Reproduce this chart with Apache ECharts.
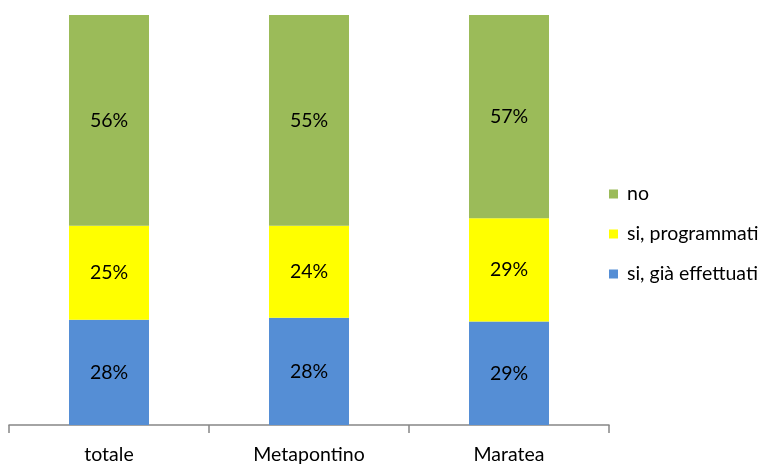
<!DOCTYPE html>
<html><head><meta charset="utf-8">
<script src="https://cdn.jsdelivr.net/npm/echarts@6/dist/echarts.min.js"></script>
<style>html,body{margin:0;padding:0;background:#fff}#c{width:764px;height:465px}</style>
</head><body><div id="c"></div>
<script>
const categories = ['totale', 'Metapontino', 'Maratea'];
const effettuati = [28, 28, 29];
const programmati = [25, 24, 29];
const no = [56, 55, 57];
const seriesNames = ['si, già effettuati', 'si, programmati', 'no'];
const colors = ['#558ED5', '#FFFF00', '#9BBB59'];

const raw = [effettuati, programmati, no];
const totals = categories.map((_, i) => raw.reduce((s, a) => s + a[i], 0));
const font = 'Lato, Calibri, Carlito, sans-serif';

const chart = echarts.init(document.getElementById('c'));
chart.setOption({
  animation: false,
  grid: { left: 9, right: 155, top: 15, bottom: 39 },
  legend: {
    orient: 'vertical', left: 604, top: 179,
    itemWidth: 9, itemHeight: 9, itemGap: 20,
    icon: 'rect',
    data: ['no', 'si, programmati', 'si, già effettuati'],
    textStyle: { fontFamily: font, fontSize: 19.5, color: '#000', padding: [0, 0, 0, 4] }
  },
  xAxis: {
    type: 'category', data: categories,
    axisLine: { lineStyle: { color: '#868686', width: 1.5 } },
    axisTick: { show: true, length: 8, lineStyle: { color: '#868686', width: 1.5 } },
    axisLabel: { fontFamily: font, fontSize: 19.5, color: '#000', margin: 20 }
  },
  yAxis: { type: 'value', min: 0, max: 1, show: false, splitLine: { show: false } },
  series: raw.map((arr, k) => ({
    name: seriesNames[k], type: 'bar', stack: 'a', barWidth: '40%',
    itemStyle: { color: colors[k] },
    data: arr.map((v, i) => ({ value: v / totals[i], raw: v })),
    label: {
      show: true, position: 'inside', fontFamily: font, fontSize: 19.5, color: '#000',
      formatter: p => p.data.raw + '%'
    }
  }))
});
</script></body></html>
